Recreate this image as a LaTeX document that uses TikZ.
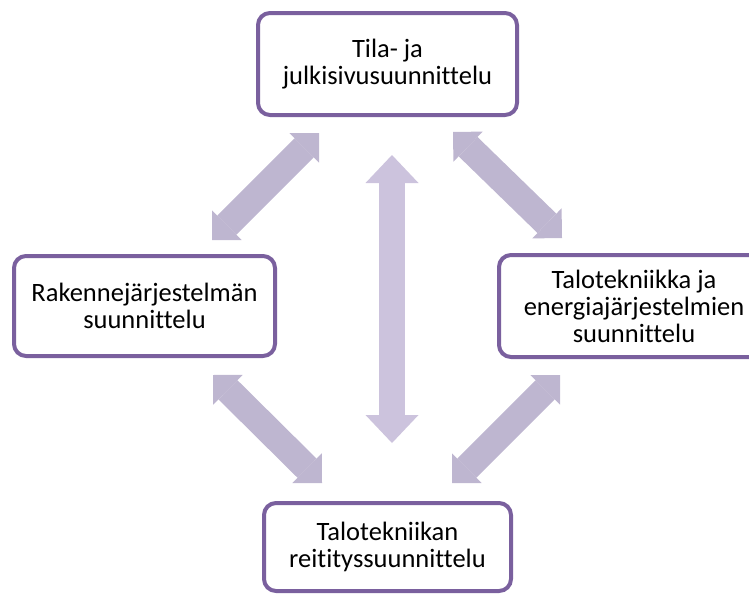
\documentclass[tikz,border=0pt]{standalone}
\usepackage{fontspec}
\setmainfont{Carlito}[Ligatures=NoCommon]
\usetikzlibrary{arrows.meta}
\definecolor{boxline}{RGB}{122,96,158}
\definecolor{arrowfill}{RGB}{190,182,208}
\definecolor{arrowfillv}{RGB}{204,195,221}
\tikzset{
  box/.style={draw=boxline, line width=4pt, rounded corners=12pt, fill=white,
    align=center, inner sep=0pt, font=\fontsize{26.5}{27}\selectfont},
  diagarrow/.style={draw=arrowfill, line width=27pt,
    {Triangle[length=21pt,width=42pt,line width=0pt]}-{Triangle[length=21pt,width=42pt,line width=0pt]}},
  vertarrow/.style={draw=arrowfillv, line width=26pt,
    {Triangle[length=28pt,width=53pt,line width=0pt]}-{Triangle[length=28pt,width=53pt,line width=0pt]}},
}
\begin{document}
\begin{tikzpicture}[x=1pt,y=-1pt]
\useasboundingbox (0,0) rectangle (749,597);
\clip (0,0) rectangle (749,597);
\node[box, minimum width=259pt, minimum height=102pt] (top) at (387.5,64) {Tila- ja\\julkisivusuunnittelu};
\node[box, minimum width=261pt, minimum height=100pt] (left) at (144.5,306) {Rakennejärjestelmän\\suunnittelu};
\node[box, minimum width=270pt, minimum height=102pt] (right) at (634,306) {Talotekniikka ja\\energiajärjestelmien\\suunnittelu};
\node[box, minimum width=247pt, minimum height=88pt] (bottom) at (387.5,547) {Talotekniikan\\reitityssuunnittelu};
\coordinate (tl1) at (319,133);
\coordinate (tl2) at (212,240);
\coordinate (tr1) at (453,132);
\coordinate (tr2) at (562,238);
\coordinate (bl1) at (213,375);
\coordinate (bl2) at (322,483);
\coordinate (br1) at (560,375);
\coordinate (br2) at (452,483);
\coordinate (v1) at (392,155);
\coordinate (v2) at (392,443);
\draw[diagarrow] (tl1) -- (tl2);
\draw[diagarrow] (tr1) -- (tr2);
\draw[diagarrow] (bl1) -- (bl2);
\draw[diagarrow] (br1) -- (br2);
\draw[vertarrow] (v1) -- (v2);
\end{tikzpicture}
\end{document}
